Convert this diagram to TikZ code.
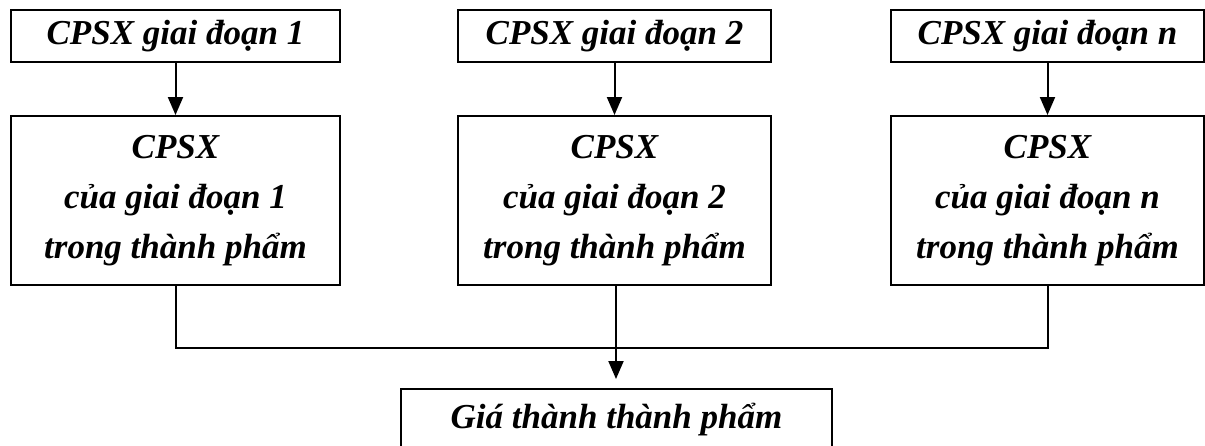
\documentclass[tikz,border=0pt]{standalone}
\usepackage{fontspec}
\setmainfont{Liberation Serif}
\usetikzlibrary{arrows.meta}
\begin{document}
\begin{tikzpicture}[x=1pt,y=-1pt,
  box/.style={draw, line width=2pt, inner sep=0pt, align=center,
    font=\fontsize{35}{50}\selectfont\bfseries\itshape},
  topbox/.style={box, minimum height=52pt},
  midbox/.style={box, minimum height=169pt},
  arr/.style={line width=2pt, -{Triangle[length=18pt,width=15pt]}},
  link/.style={line width=2pt}]
\clip (0,0) rectangle (1205,445);
\useasboundingbox (0,0) rectangle (1205,445);
\node[topbox, minimum width=329pt] (t1) at (175.5,36) {CPSX giai đoạn 1};
\node[topbox, minimum width=313pt] (t2) at (614.5,36) {CPSX giai đoạn 2};
\node[topbox, minimum width=313pt] (t3) at (1047.5,36) {CPSX giai đoạn n};
\node[midbox, minimum width=329pt] (m1) at (175.5,200.5) {CPSX\\của giai đoạn 1\\trong thành phẩm};
\node[midbox, minimum width=313pt] (m2) at (614.5,200.5) {CPSX\\của giai đoạn 2\\trong thành phẩm};
\node[midbox, minimum width=313pt] (m3) at (1047.5,200.5) {CPSX\\của giai đoạn n\\trong thành phẩm};
\node[box, minimum width=431pt, minimum height=62pt] (b) at (616.5,420) {Giá thành thành phẩm};
\draw[arr] (t1) -- (m1);
\draw[arr] (t2) -- (m2);
\draw[arr] (t3) -- (m3);
\coordinate (j) at (616,348);
\draw[link] (m1.south) |- (j) -| (m3.south);
\draw[arr, shorten >=9pt] (j |- m2.south) -- (j |- b.north);
\end{tikzpicture}
\end{document}
